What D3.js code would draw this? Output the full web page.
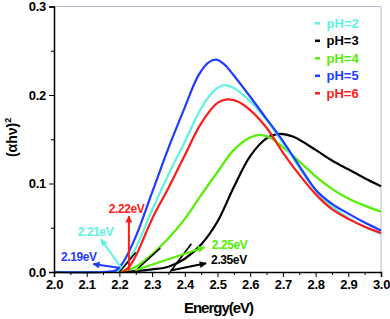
<!DOCTYPE html>
<html>
<head>
<meta charset="utf-8">
<script src="https://cdn.jsdelivr.net/npm/d3@7"></script>
<style>
  body { margin: 0; background: #fff; }
  svg { display: block; font-family: "Liberation Sans", Arial, sans-serif; font-weight: bold; }
</style>
</head>
<body>
<div id="chart"></div>
<script>
// energy (eV) and (alpha h nu)^2 values
var pH2 = [[2.0, 0], [2.15, 0], [2.2, 0.002], [2.22, 0.009], [2.25, 0.027], [2.3, 0.07], [2.35, 0.11], [2.4, 0.147], [2.45, 0.185], [2.49, 0.205], [2.52, 0.211], [2.55, 0.208], [2.6, 0.193], [2.65, 0.172], [2.7, 0.146], [2.75, 0.118], [2.8, 0.092], [2.85, 0.074], [2.9, 0.061], [2.95, 0.051], [3.0, 0.043]];
var pH3 = [[2.2, 0], [2.25, 0.001], [2.3, 0.003], [2.35, 0.006], [2.4, 0.015], [2.45, 0.031], [2.5, 0.057], [2.55, 0.096], [2.6, 0.131], [2.65, 0.151], [2.69, 0.156], [2.73, 0.153], [2.8, 0.138], [2.85, 0.126], [2.9, 0.116], [2.95, 0.106], [3.0, 0.097]];
var pH4 = [[2.2, 0], [2.22, 0.002], [2.25, 0.006], [2.3, 0.02], [2.35, 0.038], [2.4, 0.06], [2.45, 0.087], [2.5, 0.113], [2.55, 0.138], [2.6, 0.152], [2.63, 0.155], [2.66, 0.152], [2.7, 0.141], [2.75, 0.125], [2.8, 0.108], [2.85, 0.094], [2.9, 0.083], [2.95, 0.075], [3.0, 0.068]];
var pH5 = [[2.0, 0], [2.15, 0], [2.19, 0.002], [2.21, 0.01], [2.25, 0.04], [2.3, 0.09], [2.35, 0.14], [2.4, 0.186], [2.44, 0.221], [2.47, 0.236], [2.495, 0.24], [2.52, 0.235], [2.55, 0.222], [2.6, 0.198], [2.65, 0.173], [2.7, 0.148], [2.75, 0.12], [2.8, 0.093], [2.85, 0.077], [2.9, 0.066], [2.95, 0.056], [3.0, 0.047]];
var pH6 = [[2.21, 0], [2.23, 0.006], [2.25, 0.018], [2.3, 0.06], [2.35, 0.095], [2.4, 0.132], [2.45, 0.168], [2.5, 0.191], [2.53, 0.195], [2.56, 0.193], [2.6, 0.183], [2.65, 0.163], [2.7, 0.135], [2.75, 0.11], [2.8, 0.088], [2.85, 0.071], [2.9, 0.06], [2.95, 0.051], [3.0, 0.044]];

var seriesNames = ["pH=2", "pH=3", "pH=4", "pH=5", "pH=6"];
var seriesData = [pH2, pH3, pH4, pH5, pH6];
var seriesColors = ["#5ef2e0", "#000000", "#55ee00", "#1f3cff", "#ff1a1a"];
var drawOrder = [1, 2, 0, 4, 3];

// extrapolation lines
var tangents = [[[2.20, 0], [2.25, 0.022]], [[2.245, 0], [2.325, 0.027]], [[2.355, 0], [2.42, 0.032]]];

// band gap notes: label, colour, arrow start, arrow end, label position
var gapLabels = ["2.22eV", "2.21eV", "2.19eV", "2.25eV", "2.35eV"];
var gapColors = ["#ff1a1a", "#5ef2e0", "#1f3cff", "#55ee00", "#000000"];
var gapFrom = [[2.229, 0.002], [2.207, 0.004], [2.202, 0.0045], [2.248, 0.002], [2.36, 0.002]];
var gapTo = [[2.229, 0.063], [2.144, 0.037], [2.12, 0.009], [2.46, 0.028], [2.465, 0.0098]];
var gapText = [[2.222, 0.071], [2.127, 0.0455], [2.076, 0.017], [2.537, 0.0305], [2.535, 0.0136]];

var xTicks = [2.0, 2.1, 2.2, 2.3, 2.4, 2.5, 2.6, 2.7, 2.8, 2.9, 3.0];
var yTicks = [0.0, 0.1, 0.2, 0.3];

var width = 390, height = 319;
var svg = d3.select("#chart").append("svg")
  .attr("width", width)
  .attr("height", height);

var scX = d3.scaleLinear().domain([2.0, 3.0]).range([54, 381]);
var scY = d3.scaleLinear().domain([0, 0.3]).range([272, 6.5]);

// frame
svg.append("path")
  .attr("d", `M${scX(2.0)},${scY(0.3)}H${scX(3.0)}V${scY(0)}`)
  .attr("fill", "none")
  .attr("stroke", "#b4bccb")
  .attr("stroke-width", 1);

var defs = svg.append("defs");
gapColors.forEach((c, i) => {
  defs.append("marker")
    .attr("id", "ah" + i)
    .attr("viewBox", "0 0 10 10")
    .attr("refX", 9)
    .attr("refY", 5)
    .attr("markerWidth", 8)
    .attr("markerHeight", 7)
    .attr("markerUnits", "userSpaceOnUse")
    .attr("orient", "auto")
    .append("path")
    .attr("d", "M0,0L10,5L0,10z")
    .attr("fill", c);
});

var line = d3.line()
  .x(d => scX(d[0]))
  .y(d => scY(d[1]))
  .curve(d3.curveCatmullRom.alpha(0.5));

var g = svg.append("g");
drawOrder.forEach(i => {
  g.append("path")
    .attr("d", line(seriesData[i]))
    .attr("fill", "none")
    .attr("stroke", seriesColors[i])
    .attr("stroke-width", 2.2);
});

var straight = d3.line().x(d => scX(d[0])).y(d => scY(d[1]));
g.selectAll(".tan")
  .data(tangents)
  .enter()
  .append("path")
  .attr("d", straight)
  .attr("fill", "none")
  .attr("stroke", "#000")
  .attr("stroke-width", 1.6);

gapLabels.forEach((t, i) => {
  g.append("line")
    .attr("x1", scX(gapFrom[i][0])).attr("y1", scY(gapFrom[i][1]))
    .attr("x2", scX(gapTo[i][0])).attr("y2", scY(gapTo[i][1]))
    .attr("stroke", gapColors[i])
    .attr("stroke-width", 2)
    .attr("marker-end", "url(#ah" + i + ")");
  g.append("text")
    .attr("x", scX(gapText[i][0]))
    .attr("y", scY(gapText[i][1]))
    .attr("dy", "0.35em")
    .attr("text-anchor", "middle")
    .attr("font-size", 12)
    .attr("letter-spacing", "-0.4")
    .attr("fill", gapColors[i])
    .text(t);
});

// axes
var axX = svg.append("g")
  .attr("transform", `translate(0, ${scY(0)})`)
  .call(d3.axisBottom(scX).tickValues(xTicks).tickFormat(d3.format(".1f")).tickSize(5).tickPadding(3));
axX.append("g")
  .call(d3.axisBottom(scX).tickValues(d3.range(2.05, 3.0, 0.1)).tickFormat("").tickSize(3));

var axY = svg.append("g")
  .attr("transform", `translate(${scX(2.0)}, 0)`)
  .call(d3.axisLeft(scY).tickValues(yTicks).tickFormat(d3.format(".1f")).tickSize(5).tickPadding(3));
axY.append("g")
  .call(d3.axisLeft(scY).tickValues([0.05, 0.15, 0.25]).tickFormat("").tickSize(3));

svg.selectAll(".domain").attr("stroke", "#000").attr("stroke-width", 1.5);
axX.selectAll(".domain").filter((d, i, n) => n[i].parentNode !== axX.node()).remove();
axY.selectAll(".domain").filter((d, i, n) => n[i].parentNode !== axY.node()).remove();
svg.selectAll(".tick line").attr("stroke", "#000");
axX.attr("font-size", 13).attr("font-family", null);
axY.attr("font-size", 13).attr("font-family", null);
svg.selectAll(".tick text")
  .attr("font-weight", "bold")
  .attr("letter-spacing", "-0.3")
  .attr("fill", "#000");

// axis titles
svg.append("text")
  .attr("x", (scX(2.0) + scX(3.0)) / 2 + 1)
  .attr("y", 313)
  .attr("text-anchor", "middle")
  .attr("font-size", 15)
  .attr("letter-spacing", "-1")
  .text("Energy(eV)");

var yl = svg.append("text")
  .attr("transform", `translate(17, ${scY(0.152)}) rotate(-90)`)
  .attr("text-anchor", "middle")
  .attr("font-size", 14);
yl.append("tspan").text("(αhν)");
yl.append("tspan").attr("font-size", 9).attr("dy", -6).text("2");

// legend
var lg = svg.append("g");
seriesNames.forEach((n, i) => {
  var yy = 23.3 + i * 17.5;
  lg.append("line")
    .attr("x1", 315).attr("x2", 320)
    .attr("y1", yy).attr("y2", yy)
    .attr("stroke", seriesColors[i])
    .attr("stroke-width", 2.5);
  lg.append("text")
    .attr("x", 326.5)
    .attr("y", yy)
    .attr("dy", "0.35em")
    .attr("font-size", 13)
    .attr("fill", seriesColors[i])
    .text(n);
});
</script>
</body>
</html>
